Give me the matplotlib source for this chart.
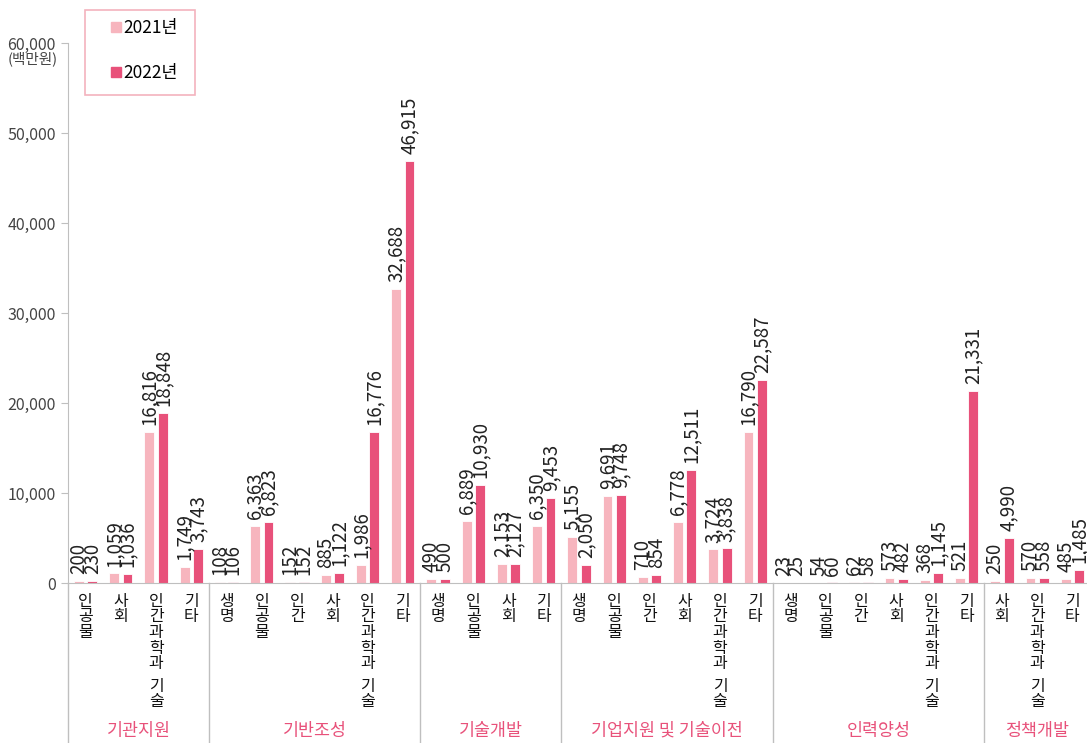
import matplotlib
matplotlib.use('Agg')
import matplotlib.pyplot as plt
from matplotlib.lines import Line2D
from matplotlib.patches import Rectangle

plt.rcParams['font.family'] = ['Noto Sans CJK KR', 'DejaVu Sans']

# data (백만원)
groups = ['기관지원', '기반조성', '기술개발', '기업지원 및 기술이전', '인력양성', '정책개발']
group_cats = [
    ['인공물', '사회', '인간과학과 기술', '기타'],
    ['생명', '인공물', '인간', '사회', '인간과학과 기술', '기타'],
    ['생명', '인공물', '사회', '기타'],
    ['생명', '인공물', '인간', '사회', '인간과학과 기술', '기타'],
    ['생명', '인공물', '인간', '사회', '인간과학과 기술', '기타'],
    ['사회', '인간과학과 기술', '기타'],
]
vals_2021 = [200, 1059, 16816, 1749,
             108, 6363, 152, 885, 1986, 32688,
             490, 6889, 2153, 6350,
             5155, 9691, 710, 6778, 3724, 16790,
             23, 54, 62, 573, 368, 521,
             250, 570, 485]
vals_2022 = [230, 1036, 18848, 3743,
             106, 6823, 152, 1122, 16776, 46915,
             500, 10930, 2127, 9453,
             2050, 9748, 854, 12511, 3838, 22587,
             25, 60, 58, 482, 1145, 21331,
             4990, 558, 1485]
yticks = [0, 10000, 20000, 30000, 40000, 50000, 60000]

c21 = '#F7B5BE'
c22 = '#E8517A'
grey = '#BFBFBF'

fig = plt.figure(figsize=(10.87, 7.43), dpi=100)
ax = fig.add_axes([68 / 1087, 160 / 743, 1022 / 1087, 540 / 743])

cats = [c for g in group_cats for c in g]
x = list(range(len(cats)))
bw = 0.28
off = 0.19
ax.bar([i - off for i in x], vals_2021, width=bw, color=c21, edgecolor='white', linewidth=0.6)
ax.bar([i + off for i in x], vals_2022, width=bw, color=c22, edgecolor='white', linewidth=0.6)

# value labels
for i in x:
    for dx, v in ((-off, vals_2021[i]), (off, vals_2022[i])):
        ax.annotate(f'{v:,}', (i + dx, v), xytext=(0, 5), textcoords='offset points',
                    rotation=90, ha='center', va='bottom', fontsize=13.5,
                    color='#222222', fontweight='light', clip_on=False)

ax.set_xlim(-0.5, len(cats) - 0.5)
ax.set_ylim(0, 60000)
ax.set_yticks(yticks)
ax.set_yticklabels([f'{t:,}' for t in yticks], fontsize=11.5, color='#444444')
ax.tick_params(axis='y', length=5, color=grey, pad=4)
ax.set_xticks([])
for s in ['top', 'right']:
    ax.spines[s].set_visible(False)
ax.spines['left'].set_color(grey)
ax.spines['bottom'].set_color(grey)
ax.annotate('(백만원)', (0, 60000), xycoords=('axes fraction', 'data'),
            xytext=(-35, -16), textcoords='offset pixels', ha='center', va='center',
            fontsize=10.5, color='#444444', annotation_clip=False)

# category labels, one character per line
pitch = 15.5
for i, c in enumerate(cats):
    y = -10
    for ch in c:
        if ch == ' ':
            y -= 7
            continue
        ax.annotate(ch, (i, 0), xycoords=('data', 'axes fraction'), xytext=(0, y),
                    textcoords='offset pixels', ha='center', va='top', fontsize=11.5,
                    color='#111111', annotation_clip=False)
        y -= pitch

# group separators and labels
start = 0
for gi, g in enumerate(groups):
    n = len(group_cats[gi])
    left = start - 0.5
    ax.plot([left, left], [0, -160 / 540], transform=ax.get_xaxis_transform(),
            color=grey, lw=1, clip_on=False)
    ax.annotate(g, (start + (n - 1) / 2, 0), xycoords=('data', 'axes fraction'),
                xytext=(0, -148), textcoords='offset pixels', ha='center', va='center',
                fontsize=12.5, color=c22, annotation_clip=False)
    start += n

# legend with its own frame
handles = [Line2D([], [], marker='s', ls='', color=c21, markersize=7, label='2021년'),
           Line2D([], [], marker='s', ls='', color=c22, markersize=7, label='2022년')]
fig.legend(handles=handles, loc='upper left', bbox_to_anchor=(102 / 1087, 1 - 10 / 743),
           frameon=False, fontsize=12.5, labelspacing=1.55, handlelength=0.6,
           handletextpad=0.1, borderpad=0.5, borderaxespad=0)
fig.patches.append(Rectangle((85 / 1087, 1 - 95 / 743), 110 / 1087, 85 / 743,
                             transform=fig.transFigure, fill=False,
                             edgecolor='#F3B3BE', lw=1.2))

fig.savefig('out.png', dpi=100)
